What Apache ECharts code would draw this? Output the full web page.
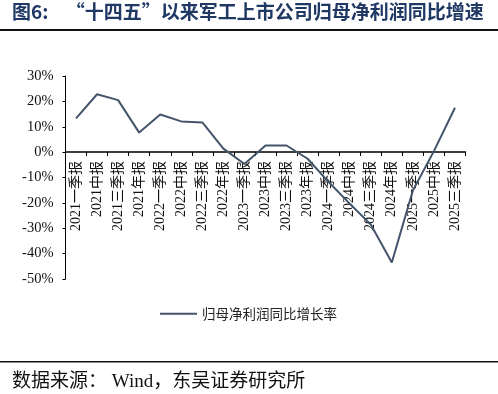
<!DOCTYPE html>
<html><head><meta charset="utf-8">
<script src="https://cdn.jsdelivr.net/npm/echarts@6/dist/echarts.min.js"></script>
<style>html,body{margin:0;padding:0;background:#fff;}#c{width:498px;height:394px;}</style>
</head><body><div id="c"></div>
<script>
const categories = ['2021一季报','2021中报','2021三季报','2021年报','2022一季报','2022中报','2022三季报','2022年报','2023一季报','2023中报','2023三季报','2023年报','2024一季报','2024中报','2024三季报','2024年报','2025一季报','2025中报','2025三季报'];
const growth = [13.3, 22.8, 20.5, 7.7, 14.8, 12.1, 11.7, 1.4, -4.7, 2.6, 2.6, -2.6, -11.8, -20.3, -28.5, -43.5, -15.1, 0.4, 17.5];
const seriesName = '归母净利润同比增长率';
const titleText = '图6:    “十四五”以来军工上市公司归母净利润同比增速';
const sourceText = '数据来源： Wind，东吴证券研究所';

const serif = '"Liberation Serif", "Times New Roman", "Noto Sans CJK SC", serif';
const chart = echarts.init(document.getElementById('c'), null, {renderer: 'canvas'});
chart.setOption({
  backgroundColor: '#fff',
  animation: false,
  grid: {left: 65.5, right: 32.5, top: 76, bottom: 115, containLabel: false},
  legend: {
    data: [seriesName], left: 155, top: 302,
    icon: 'rect', itemWidth: 37, itemHeight: 2, itemGap: 6,
    textStyle: {fontSize: 13.5, color: '#222', fontFamily: '"Noto Sans CJK SC", sans-serif'}
  },
  xAxis: {
    type: 'category', data: categories, boundaryGap: true, position: 'bottom', offset: -127,
    axisLine: {onZero: false, lineStyle: {color: '#000', width: 1.5}},
    axisTick: {show: true, inside: false, length: 4, lineStyle: {color: '#000'}},
    axisLabel: {rotate: 90, interval: 0, margin: 9, fontSize: 14, color: '#111', fontFamily: serif}
  },
  yAxis: {
    type: 'value', min: -50, max: 30, interval: 10,
    splitLine: {show: false},
    axisLine: {show: true, lineStyle: {color: '#000', width: 1}},
    axisTick: {show: true, length: 3, lineStyle: {color: '#000'}},
    axisLabel: {formatter: '{value}%', fontSize: 14.5, color: '#111', margin: 12, fontFamily: serif}
  },
  series: [{
    name: seriesName, type: 'line', data: growth, symbol: 'none',
    lineStyle: {color: '#44546a', width: 2}, itemStyle: {color: '#44546a'}
  }],
  graphic: [
    {type: 'text', left: 12, top: 2, style: {text: titleText, fontSize: 19, fontWeight: 'bold', fill: '#1f3864', fontFamily: '"Noto Sans CJK SC", sans-serif'}},
    {type: 'rect', shape: {x: 0, y: 29, width: 498, height: 2}, style: {fill: '#111'}},
    {type: 'rect', shape: {x: 0, y: 361, width: 498, height: 1.5}, style: {fill: '#111'}},
    {type: 'text', left: 12, top: 373, style: {text: sourceText, fontSize: 19, fill: '#111', fontFamily: serif}}
  ]
});
</script></body></html>
